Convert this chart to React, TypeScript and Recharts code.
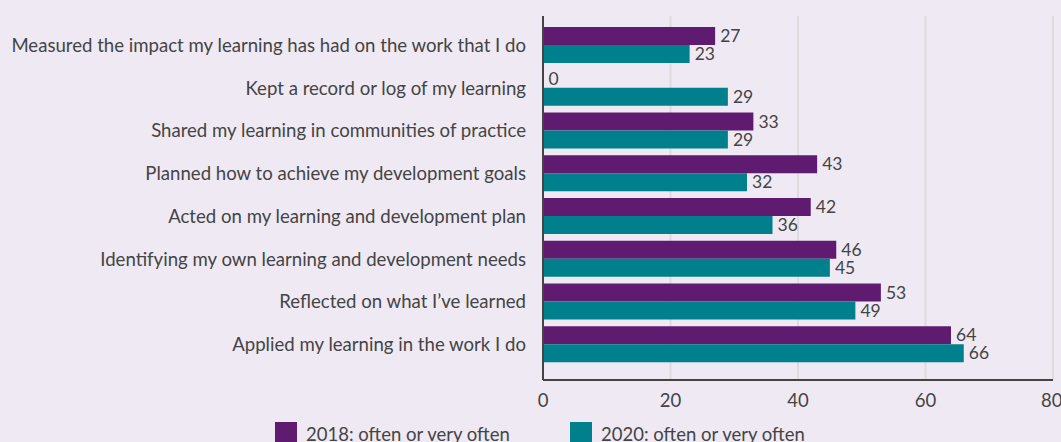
import React from 'react';
import {
  BarChart,
  Bar,
  XAxis,
  YAxis,
  CartesianGrid,
  Legend,
  LabelList
} from 'recharts';

const categories = [
  'Measured the impact my learning has had on the work that I do',
  'Kept a record or log of my learning',
  'Shared my learning in communities of practice',
  'Planned how to achieve my development goals',
  'Acted on my learning and development plan',
  'Identifying my own learning and development needs',
  "Reflected on what I\u2019ve learned",
  'Applied my learning in the work I do'
];
const values2018 = [27, 0, 33, 43, 42, 46, 53, 64];
const values2020 = [23, 29, 29, 32, 36, 45, 49, 66];
const xTicks = [0, 20, 40, 60, 80];

const series = [
  { key: 'y2018', name: '2018: often or very often', color: '#5f1b6f' },
  { key: 'y2020', name: '2020: often or very often', color: '#00808c' }
];

const data = categories.map((name, i) => ({
  name,
  y2018: values2018[i],
  y2020: values2020[i]
}));

const FONT = 'Lato, "Open Sans", sans-serif';
const TEXT = '#444444';

// value label to the right of each bar (also shown when the value is 0)
const ValueLabel = (props: any) => {
  const { x, y, width, height, value } = props;
  if (value === undefined || value === null) return null;
  return (
    <text
      x={Number(x) + Number(width || 0) + 5}
      y={Number(y) + Number(height) / 2}
      dy="0.35em"
      fill={TEXT}
      fontSize={17.5}
      fontFamily={FONT}
    >
      {value}
    </text>
  );
};

const renderLegend = () => (
  <div style={{ position: 'relative', height: 30, fontFamily: FONT }}>
    {series.map((s, i) => (
      <div
        key={s.key}
        style={{
          position: 'absolute',
          left: i === 0 ? 275 : 570,
          top: 10,
          display: 'flex',
          alignItems: 'flex-start',
          color: TEXT,
          fontSize: 18.5,
          whiteSpace: 'nowrap'
        }}
      >
        <span style={{ width: 22, height: 22, background: s.color, display: 'inline-block', marginRight: 9 }} />
        <span style={{ lineHeight: '22px', marginTop: 1 }}>{s.name}</span>
      </div>
    ))}
  </div>
);

const App: React.FC = () => {
  return (
    <div style={{ position: 'absolute', left: 0, top: 0, width: 1061, height: 442, background: '#efe9f4', overflow: 'hidden' }}>
      <BarChart
        width={1061}
        height={442}
        data={data}
        layout="vertical"
        margin={{ top: 16, right: 8, left: 0, bottom: 0 }}
        barGap={0}
      >
        <CartesianGrid horizontal={false} stroke="#dcdcdc" strokeWidth={2} />
        <XAxis
          type="number"
          domain={[0, 80]}
          ticks={xTicks}
          height={32}
          tickLine={false}
          axisLine={{ stroke: '#444', strokeWidth: 2 }}
          tick={{ fill: TEXT, fontSize: 18.5, fontFamily: FONT }}
          tickMargin={8}
        />
        <YAxis
          type="category"
          dataKey="name"
          width={543}
          tickLine={false}
          axisLine={{ stroke: '#444', strokeWidth: 2 }}
          tick={{ fill: TEXT, fontSize: 18.6, fontFamily: FONT }}
          tickMargin={11}
          padding={{ top: 8, bottom: 14 }}
          interval={0}
        />
        <Legend verticalAlign="bottom" height={30} content={renderLegend} />
        {series.map((s) => (
          <Bar
            key={s.key}
            dataKey={s.key}
            name={s.name}
            fill={s.color}
            barSize={18}
            minPointSize={0.5}
            isAnimationActive={false}
          >
            <LabelList dataKey={s.key} content={ValueLabel} />
          </Bar>
        ))}
      </BarChart>
    </div>
  );
};

export default App;
